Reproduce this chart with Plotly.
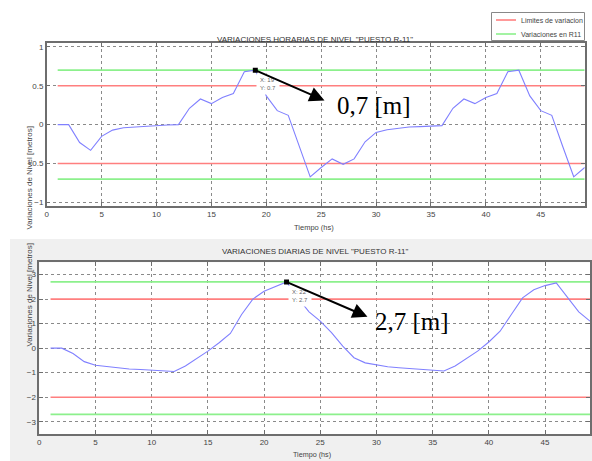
import plotly.graph_objects as go

# ---------------- data ----------------
hours = list(range(1, 50))
hourly_level = [0, 0, -0.23, -0.33, -0.15, -0.07, -0.04, -0.03, -0.02, -0.01, -0.005, 0,
                0.21, 0.33, 0.27, 0.35, 0.40, 0.68, 0.70, 0.37, 0.18, 0.12, -0.28, -0.67,
                -0.55, -0.44, -0.51, -0.44, -0.22, -0.10, -0.065, -0.045, -0.03, -0.025, -0.02, -0.013,
                0.21, 0.33, 0.27, 0.35, 0.40, 0.68, 0.70, 0.37, 0.18, 0.12, -0.28, -0.67,
                -0.55]
daily_level = [0, 0, -0.22, -0.55, -0.70, -0.76, -0.80, -0.85, -0.87, -0.90, -0.92, -0.95,
               -0.73, -0.43, -0.12, 0.22, 0.60, 1.37, 2.00, 2.32, 2.52, 2.70, 2.05, 1.48,
               1.10, 0.63, 0.08, -0.39, -0.60, -0.69, -0.76, -0.80, -0.83, -0.85, -0.87, -0.93,
               -0.73, -0.43, -0.12, 0.25, 0.69, 1.37, 2.05, 2.38, 2.55, 2.66, 2.05, 1.48,
               1.10]

hourly_limits = [0.5, -0.5]
hourly_variation = [0.7, -0.7]
daily_limits = [2.0, -2.0]
daily_variation = [2.7, -2.7]
line_span = [1, 49]

hourly_tip = (19, 0.7)
daily_tip = (22, 2.7)

titles = ['VARIACIONES HORARIAS DE NIVEL "PUESTO R-11"',
          'VARIACIONES DIARIAS DE NIVEL "PUESTO R-11"']
legend_names = ["Limites de variacion", "Variaciones en R11"]
xlabel = "Tiempo (hs)"
ylabel = "Variaciones de Nivel [metros]"
callouts = ["0,7 [m]", "2,7 [m]"]

# ---------------- styling ----------------
W, H = 592, 461
NARROW = "Liberation Sans Narrow, Arial Narrow, Liberation Sans, Arial, sans-serif"
SERIF = "Liberation Serif, Times New Roman, serif"
RED = "#ff7f7f"
GREEN = "#8cf08c"
BLUE = "#8080ff"


def hx(p):  # paper x from pixel
    return p / W


def hy(p):  # paper y from pixel
    return 1 - p / H


top_dom_x = [hx(46.7), hx(584.7)]
top_dom_y = [hy(206), hy(43.3)]
bot_dom_x = [hx(39.3), hx(590)]
bot_dom_y = [hy(434), hy(262.3)]


def hlines(levels):
    xs, ys = [], []
    for lv in levels:
        xs += [line_span[0], line_span[1], None]
        ys += [lv, lv, None]
    return xs, ys


fig = go.Figure()

# top panel
xs, ys = hlines(hourly_limits)
fig.add_trace(go.Scatter(x=xs, y=ys, mode="lines", line=dict(color=RED, width=1.6),
                         name=legend_names[0], xaxis="x", yaxis="y"))
xs, ys = hlines(hourly_variation)
fig.add_trace(go.Scatter(x=xs, y=ys, mode="lines", line=dict(color=GREEN, width=1.6),
                         name=legend_names[1], xaxis="x", yaxis="y"))
fig.add_trace(go.Scatter(x=hours, y=hourly_level, mode="lines", line=dict(color=BLUE, width=1.1),
                         xaxis="x", yaxis="y"))
fig.add_trace(go.Scatter(x=[hourly_tip[0]], y=[hourly_tip[1]], mode="markers",
                         marker=dict(symbol="square", size=5, color="black"),
                         xaxis="x", yaxis="y"))

# bottom panel
xs, ys = hlines(daily_limits)
fig.add_trace(go.Scatter(x=xs, y=ys, mode="lines", line=dict(color=RED, width=1.6),
                         xaxis="x2", yaxis="y2"))
xs, ys = hlines(daily_variation)
fig.add_trace(go.Scatter(x=xs, y=ys, mode="lines", line=dict(color=GREEN, width=1.6),
                         xaxis="x2", yaxis="y2"))
fig.add_trace(go.Scatter(x=hours, y=daily_level, mode="lines", line=dict(color=BLUE, width=1.1),
                         xaxis="x2", yaxis="y2"))
fig.add_trace(go.Scatter(x=[daily_tip[0]], y=[daily_tip[1]], mode="markers",
                         marker=dict(symbol="square", size=5, color="black"),
                         xaxis="x2", yaxis="y2"))

axis_common = dict(showline=True, linecolor="#6e6e6e", linewidth=1.5, mirror="ticks",
                   ticks="inside", ticklen=4, tickcolor="#6e6e6e",
                   showgrid=True, gridcolor="#8a8a8a", griddash="dot", gridwidth=1,
                   zeroline=False, automargin=False,
                   tickfont=dict(family=NARROW, size=8, color="#444"))

fig.update_layout(
    width=W, height=H, margin=dict(l=0, r=0, t=0, b=0, autoexpand=False),
    paper_bgcolor="white", plot_bgcolor="white",
    showlegend=False,
    xaxis=dict(domain=top_dom_x, anchor="y", range=[0, 49], tickvals=list(range(0, 50, 5)),
               **axis_common),
    yaxis=dict(domain=top_dom_y, anchor="x", range=[-1.045, 1.045],
               tickvals=[-1, -0.5, 0, 0.5, 1], **axis_common),
    xaxis2=dict(domain=bot_dom_x, anchor="y2", range=[0, 49], tickvals=list(range(0, 50, 5)),
                **axis_common),
    yaxis2=dict(domain=bot_dom_y, anchor="x2", range=[-3.5, 3.5],
                tickvals=[-3, -2, -1, 0, 1, 2, 3], **axis_common),
)

# background of the lower figure window
fig.add_shape(type="rect", xref="paper", yref="paper", x0=hx(10), x1=1, y0=0, y1=hy(239),
              fillcolor="#f0f0f0", line=dict(width=0), layer="below")
fig.add_shape(type="rect", xref="paper", yref="paper", x0=bot_dom_x[0], x1=bot_dom_x[1],
              y0=bot_dom_y[0], y1=bot_dom_y[1], fillcolor="white", line=dict(width=0), layer="below")

# legend box (drawn like the MATLAB legend)
fig.add_shape(type="rect", xref="paper", yref="paper", x0=hx(491.5), x1=hx(584.5),
              y0=hy(40.5), y1=hy(12.5), fillcolor="white", line=dict(color="#888", width=1))
for i, (name, col) in enumerate(zip(legend_names, [RED, GREEN])):
    yy = 20 + 14 * i
    fig.add_shape(type="line", xref="paper", yref="paper", x0=hx(496), x1=hx(516),
                  y0=hy(yy), y1=hy(yy), line=dict(color=col, width=1.6))

ann = []
for i, name in enumerate(legend_names):
    yy = 20 + 14 * i
    ann.append(dict(text=name, xref="paper", yref="paper", x=hx(519), y=hy(yy),
                    xanchor="left", yanchor="middle", showarrow=False,
                    font=dict(family=NARROW, size=7, color="#444")))
# titles
ann.append(dict(text=titles[0], xref="paper", yref="paper", x=hx(315), y=hy(33),
                showarrow=False, font=dict(family=NARROW, size=8, color="#333")))
ann.append(dict(text=titles[1], xref="paper", yref="paper", x=hx(315), y=hy(251.5),
                showarrow=False, font=dict(family=NARROW, size=8, color="#333")))
# axis labels
ann.append(dict(text=xlabel, xref="paper", yref="paper", x=hx(314), y=hy(227.5),
                showarrow=False, font=dict(family=NARROW, size=7.5, color="#444")))
ann.append(dict(text=xlabel, xref="paper", yref="paper", x=hx(312), y=hy(461),
                yanchor="bottom", showarrow=False, font=dict(family=NARROW, size=7.2, color="#444")))
for yy in (125, 349):
    ann.append(dict(text=ylabel, xref="paper", yref="paper", x=hx(22.5), y=hy(yy),
                    showarrow=False, textangle=-90, font=dict(family=NARROW, size=8, color="#444")))

# data tips
ann.append(dict(text="X: 19<br>Y: 0.7", xref="x", yref="y", x=hourly_tip[0], y=hourly_tip[1],
                xanchor="left", yanchor="top", xshift=1, yshift=-3, showarrow=False,
                align="left", bgcolor="white", borderpad=3,
                font=dict(family=NARROW, size=6, color="#666")))
ann.append(dict(text="X: 22<br>Y: 2.7", xref="x2", yref="y2", x=daily_tip[0], y=daily_tip[1],
                xanchor="left", yanchor="top", xshift=1, yshift=-3, showarrow=False,
                align="left", bgcolor="white", borderpad=3,
                font=dict(family=NARROW, size=6, color="#666")))

# arrows
ann.append(dict(text="", xref="x", yref="y", x=25.3, y=0.31, axref="x", ayref="y",
                ax=hourly_tip[0], ay=hourly_tip[1], showarrow=True, arrowhead=2,
                arrowsize=1.5, arrowwidth=2, arrowcolor="black", standoff=0))
ann.append(dict(text="", xref="x2", yref="y2", x=29.2, y=1.28, axref="x2", ayref="y2",
                ax=daily_tip[0], ay=daily_tip[1], showarrow=True, arrowhead=2,
                arrowsize=1.5, arrowwidth=2, arrowcolor="black", standoff=0))
# callout texts
ann.append(dict(text=callouts[0], xref="x", yref="y", x=26.3, y=0.24, xanchor="left",
                yanchor="middle", showarrow=False,
                font=dict(family=SERIF, size=25, color="black")))
ann.append(dict(text=callouts[1], xref="x2", yref="y2", x=29.7, y=1.1, xanchor="left",
                yanchor="middle", showarrow=False,
                font=dict(family=SERIF, size=25, color="black")))

fig.update_layout(annotations=ann)

fig.write_html("out.html", config={"displayModeBar": False},
               post_script="document.body.style.margin='0';document.body.style.overflow='hidden';")
